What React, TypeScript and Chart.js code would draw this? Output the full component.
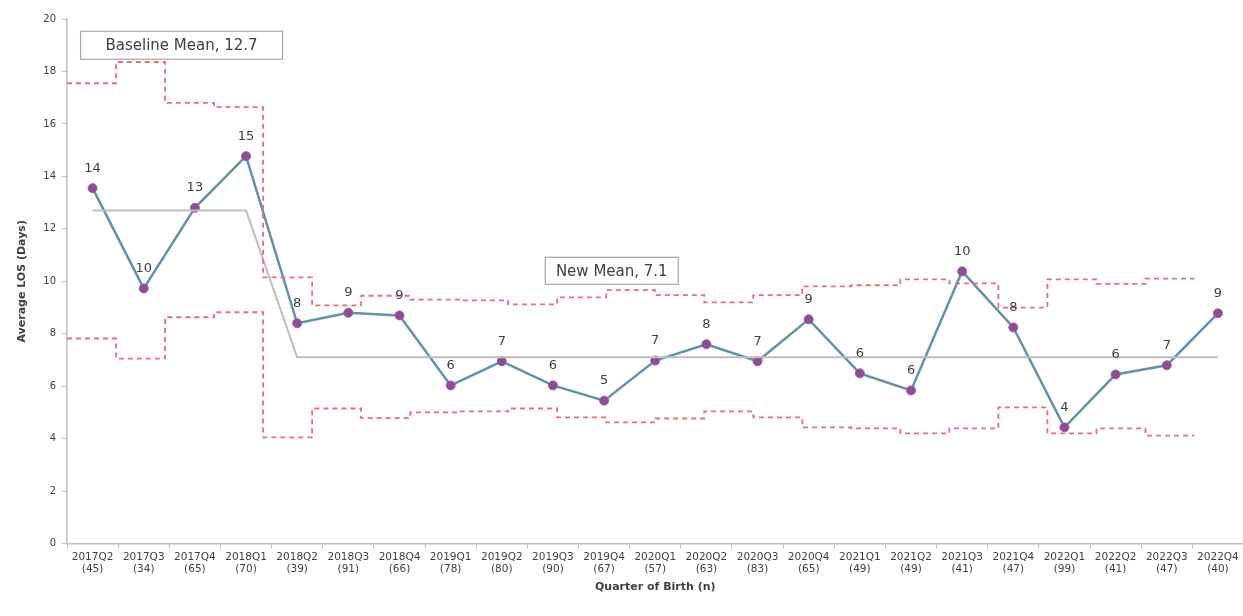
import React, { useEffect, useRef } from "react";
import { Chart, registerables } from "chart.js";

Chart.register(...registerables);

const categories = [
  "2017Q2", "2017Q3", "2017Q4",
  "2018Q1", "2018Q2", "2018Q3", "2018Q4",
  "2019Q1", "2019Q2", "2019Q3", "2019Q4",
  "2020Q1", "2020Q2", "2020Q3", "2020Q4",
  "2021Q1", "2021Q2", "2021Q3", "2021Q4",
  "2022Q1", "2022Q2", "2022Q3", "2022Q4",
];
const counts = [45, 34, 65, 70, 39, 91, 66, 78, 80, 90, 67, 57, 63, 83, 65, 49, 49, 41, 47, 99, 41, 47, 40];
const avgLos = [13.55, 9.73, 12.8, 14.77, 8.4, 8.8, 8.7, 6.03, 6.95, 6.03, 5.45, 6.98, 7.6, 6.95, 8.55, 6.49, 5.84, 10.38, 8.24, 4.43, 6.45, 6.8, 8.78];
const meanLine = [12.7, 12.7, 12.7, 12.7, 7.1, 7.1, 7.1, 7.1, 7.1, 7.1, 7.1, 7.1, 7.1, 7.1, 7.1, 7.1, 7.1, 7.1, 7.1, 7.1, 7.1, 7.1, 7.1];
const ucl = [17.55, 18.36, 16.8, 16.64, 10.15, 9.08, 9.45, 9.3, 9.27, 9.12, 9.39, 9.66, 9.47, 9.2, 9.47, 9.81, 9.85, 10.07, 9.92, 9.0, 10.07, 9.9, 10.1];
const lcl = [7.82, 7.05, 8.63, 8.82, 4.05, 5.15, 4.78, 5.0, 5.04, 5.15, 4.81, 4.62, 4.77, 5.04, 4.81, 4.43, 4.39, 4.2, 4.39, 5.19, 4.2, 4.39, 4.12];
const yTicks = [0, 2, 4, 6, 8, 10, 12, 14, 16, 18, 20];
const meanBoxes = [
  { text: "Baseline Mean, 12.7", xIndex: 1.74, y: 19.0, w: 202, h: 28 },
  { text: "New Mean, 7.1", xIndex: 10.15, y: 10.4, w: 133, h: 27 },
];

const FONT = "'DejaVu Sans', sans-serif";

function stepData(values: number[]) {
  const pts = values.map((v, i) => ({ x: i, y: v }));
  pts.push({ x: values.length, y: values[values.length - 1] });
  return pts;
}

const labelPlugin = {
  id: "pointLabels",
  afterDatasetsDraw(chart: any) {
    const ctx = chart.ctx;
    const meta = chart.getDatasetMeta(3);
    ctx.save();
    ctx.font = `13px ${FONT}`;
    ctx.fillStyle = "#404040";
    ctx.textAlign = "center";
    ctx.textBaseline = "middle";
    meta.data.forEach((el: any, i: number) => {
      ctx.fillText(String(Math.round(avgLos[i])), el.x, el.y - 20);
    });
    ctx.restore();
  },
};

const boxPlugin = {
  id: "meanBoxes",
  beforeDatasetsDraw(chart: any) {
    const ctx = chart.ctx;
    const xs = chart.scales.x;
    const ys = chart.scales.y;
    ctx.save();
    ctx.font = `15px ${FONT}`;
    ctx.textAlign = "center";
    ctx.textBaseline = "middle";
    meanBoxes.forEach((b) => {
      const cx = xs.getPixelForValue(b.xIndex);
      const cy = ys.getPixelForValue(b.y);
      ctx.fillStyle = "#ffffff";
      ctx.fillRect(cx - b.w / 2, cy - b.h / 2, b.w, b.h);
      ctx.strokeStyle = "#a6a6a6";
      ctx.lineWidth = 1.2;
      ctx.strokeRect(cx - b.w / 2, cy - b.h / 2, b.w, b.h);
      ctx.fillStyle = "#404040";
      ctx.fillText(b.text, cx, cy + 1);
    });
    ctx.restore();
  },
};

export default function App() {
  const ref = useRef<HTMLCanvasElement | null>(null);

  useEffect(() => {
    if (!ref.current) return;
    Chart.defaults.font.family = FONT;
    const chart = new Chart(ref.current, {
      type: "line",
      data: {
        labels: categories.map((c, i) => [c, `(${counts[i]})`]),
        datasets: [
          {
            label: "UCL",
            data: stepData(ucl) as any,
            xAxisID: "x2",
            stepped: true,
            borderColor: "#f06a78",
            borderWidth: 1.8,
            borderDash: [5, 4],
            pointRadius: 0,
            fill: false,
          },
          {
            label: "LCL",
            data: stepData(lcl) as any,
            xAxisID: "x2",
            stepped: true,
            borderColor: "#f06a78",
            borderWidth: 1.8,
            borderDash: [5, 4],
            pointRadius: 0,
            fill: false,
          },
          {
            label: "Mean",
            data: meanLine,
            xAxisID: "x",
            borderColor: "#bdbdbd",
            borderWidth: 2,
            pointRadius: 0,
            tension: 0,
            fill: false,
          },
          {
            label: "Average LOS",
            data: avgLos,
            xAxisID: "x",
            borderColor: "#6393a6",
            borderWidth: 2.5,
            pointRadius: 4.5,
            pointBackgroundColor: "#8f4c96",
            pointBorderColor: "#a05aa6",
            pointBorderWidth: 1,
            tension: 0,
            fill: false,
          },
        ],
      },
      options: {
        animation: false,
        responsive: true,
        maintainAspectRatio: false,
        layout: { padding: { left: 0, right: 0, top: 19, bottom: 22 } },
        plugins: {
          legend: { display: false },
          tooltip: { enabled: false },
          title: { display: false },
        },
        scales: {
          x: {
            type: "category",
            offset: true,
            grid: { offset: true, drawOnChartArea: false, tickLength: 5, color: "#bfbfbf" },
            border: { color: "#bfbfbf", width: 1.5 },
            ticks: {
              autoSkip: false,
              maxRotation: 0,
              minRotation: 0,
              padding: 2,
              color: "#404040",
              font: { size: 10.5, family: FONT },
            },
            title: {
              display: true,
              text: "Quarter of Birth (n)",
              color: "#404040",
              font: { size: 11, weight: "bold", family: FONT },
              padding: { top: 3, bottom: 0 },
            },
          },
          x2: {
            type: "linear",
            display: false,
            min: 0,
            max: 24,
          },
          y: {
            min: 0,
            max: 20,
            afterBuildTicks: (scale: any) => {
              scale.ticks = yTicks.map((v) => ({ value: v }));
            },
            afterFit: (scale: any) => {
              scale.width = 67;
            },
            grid: { drawOnChartArea: false, tickLength: 5, color: "#bfbfbf" },
            border: { color: "#bfbfbf", width: 1.5 },
            ticks: {
              padding: 6,
              color: "#404040",
              font: { size: 10, family: FONT },
            },
            title: {
              display: true,
              text: "Average LOS (Days)",
              color: "#404040",
              font: { size: 11, weight: "bold", family: FONT },
              padding: { top: 16, bottom: 4 },
            },
          },
        },
      },
      plugins: [labelPlugin, boxPlugin],
    });
    return () => chart.destroy();
  }, []);

  return (
    <div style={{ position: "fixed", left: 0, top: 0, width: 1249, height: 616, background: "#ffffff" }}>
      <canvas ref={ref} />
    </div>
  );
}
